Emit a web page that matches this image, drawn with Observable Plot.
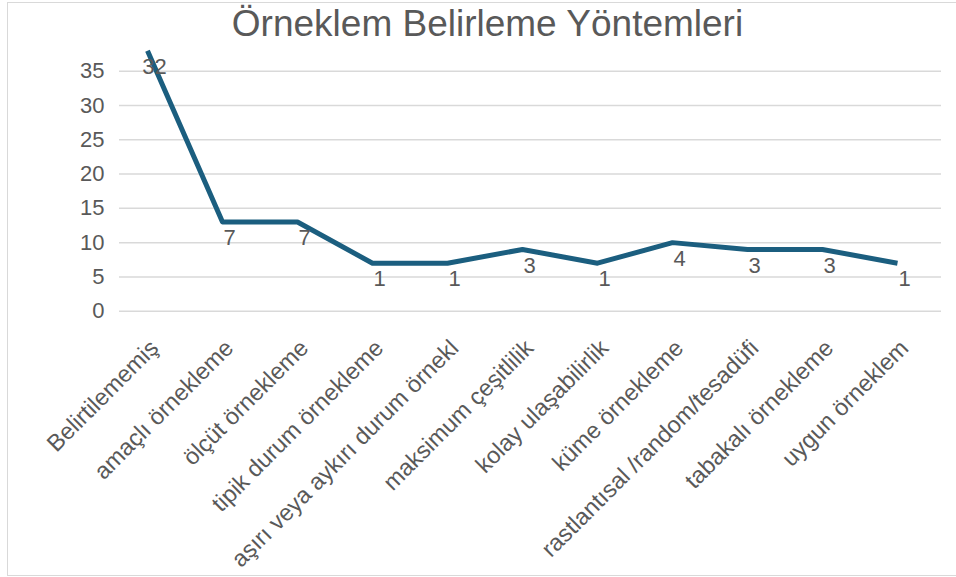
<!DOCTYPE html>
<html><head><meta charset="utf-8">
<script src="https://cdn.jsdelivr.net/npm/d3@7"></script>
<script src="https://cdn.jsdelivr.net/npm/@observablehq/plot@0.6"></script>
<style>
body{margin:0;background:#fff;font-family:"Liberation Sans",Arial,sans-serif;}
#wrap{position:relative;width:956px;height:577px;overflow:hidden;}
#frame{position:absolute;left:7px;top:2px;width:980px;height:574px;border:1px solid #d9d9d9;box-sizing:border-box;pointer-events:none;}
#title{height:50px;line-height:47px;font-size:37px;color:#595959;text-align:center;margin-left:19px;width:937px;white-space:nowrap;}
#chart svg{display:block;overflow:visible;}
</style></head>
<body>
<div id="wrap">
<div id="frame"></div>
<div id="title">Örneklem Belirleme Yöntemleri</div>
<div id="chart"></div>
</div>
<script>
const categories = ["Belirtilememiş","amaçlı örnekleme","ölçüt örnekleme","tipik durum örnekleme","aşırı veya aykırı durum örnekl","maksimum çeşitlilik","kolay ulaşabilirlik","küme örnekleme","rastlantısal /random/tesadüfi","tabakalı örnekleme","uygun örneklem"];
const labelValues = [32,7,7,1,1,3,1,4,3,3,1];
const lineValues = [38,13,13,7,7,9,7,10,9,9,7];
const yTicks = [0,5,10,15,20,25,30,35];

const data = categories.map((c,i)=>({cat:c, plot:lineValues[i], label:labelValues[i]}));

const chart = Plot.plot({
  width: 956,
  height: 527,
  marginLeft: 119,
  marginRight: 15,
  marginTop: 20.7,
  marginBottom: 266.3,
  style: {fontFamily:"'Liberation Sans', Arial, sans-serif", color:"#595959", background:"transparent", overflow:"visible"},
  x: {type:"point", domain: categories, range:[146, 898], padding:0, label:null},
  y: {domain:[0,35], label:null},
  marks: [
    Plot.ruleY(yTicks, {stroke:"#d9d9d9", strokeWidth:1.5}),
    Plot.axisY({ticks: yTicks, tickSize:0, tickPadding:15, fontSize:22, fill:"#595959", label:null}),
    Plot.axisX({tickRotate:-45, tickSize:0, tickPadding:33, dx:7, fontSize:23.5, fill:"#595959", label:null}),
    Plot.line(data, {x:"cat", y:"plot", stroke:"#1b5e7f", strokeWidth:5, strokeLinecap:"butt", strokeLinejoin:"round"}),
    Plot.text(data, {x:"cat", y:"plot", text:"label", dx:7, dy:16, fontSize:22, fill:"#595959"})
  ]
});
document.getElementById("chart").appendChild(chart);
</script>
</body></html>
